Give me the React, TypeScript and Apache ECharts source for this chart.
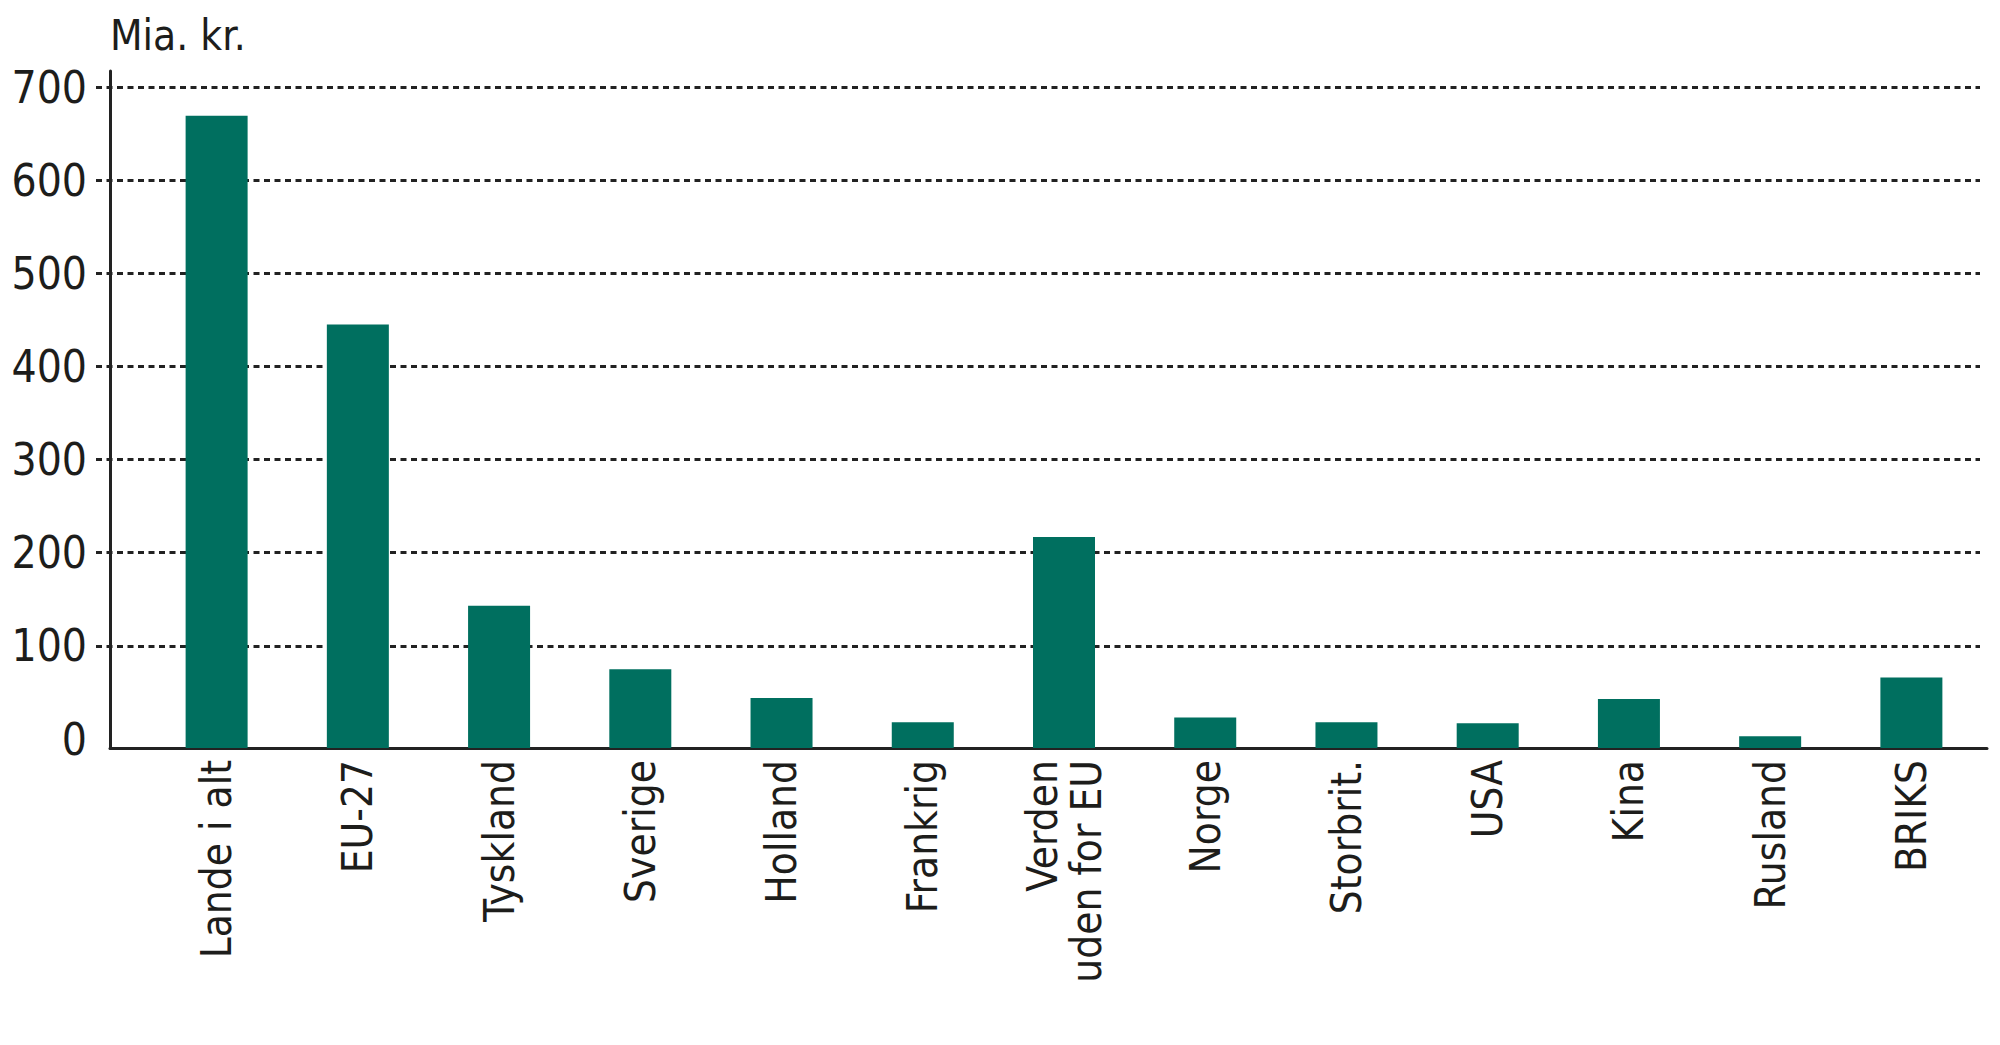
import React, { useEffect, useRef } from 'react';
import * as echarts from 'echarts';

// kategorier og værdier (mia. kr.)
const lande = [
  'Lande i alt',
  'EU-27',
  'Tyskland',
  'Sverige',
  'Holland',
  'Frankrig',
  'Verden\nuden for EU',
  'Norge',
  'Storbrit.',
  'USA',
  'Kina',
  'Rusland',
  'BRIKS',
];
const eksport = [669, 445, 143, 75, 44, 18, 217, 23, 18, 17, 43, 3, 66];

const Y_MIN = 0;
const Y_MAX = 700;
const Y_STEP = 100;
const ENHED = 'Mia. kr.';

const FONT = '"DejaVu Sans Condensed", "Liberation Sans Narrow", "Noto Sans", sans-serif';
const TEKST = '#1d1d1b';
const GROEN = '#006f5f';

// x-aksen ligger lidt under nul-linjen i originalen
const TOP = 87;
const NUL_BUND = 306;
const AKSE_BUND = 297;
const PLOT_H = 1045 - TOP - NUL_BUND;
const sokkel = ((NUL_BUND - AKSE_BUND) * (Y_MAX - Y_MIN)) / PLOT_H;

const App: React.FC = () => {
  const chartRef: any = useRef(null);

  useEffect(() => {
    const chart = echarts.init(chartRef.current, null, { renderer: 'svg' });
    const gridFarver = [];
    for (let v = Y_MIN; v <= Y_MAX; v += Y_STEP) {
      gridFarver.push(v === 0 ? 'rgba(0,0,0,0)' : '#222222');
    }

    const option = {
      animation: false,
      backgroundColor: '#ffffff',
      textStyle: { fontFamily: FONT },
      title: {
        text: ENHED,
        left: 110,
        top: 14,
        padding: 0,
        textStyle: { fontFamily: FONT, fontSize: 42, fontWeight: 'normal', color: TEKST },
      },
      grid: [
        // gitterlinjer og y-tal
        { left: 96, right: 20, top: TOP, bottom: NUL_BUND },
        // søjler og landenavne
        { left: 146, right: 18, top: TOP, bottom: AKSE_BUND },
        // aksestreger
        { left: 110, right: 13, top: 71, bottom: AKSE_BUND },
      ],
      xAxis: [
        { gridIndex: 0, type: 'category', data: lande, show: false },
        {
          gridIndex: 1,
          type: 'category',
          data: lande,
          axisLine: { show: false },
          axisTick: { show: false },
          axisLabel: {
            interval: 0,
            rotate: 90,
            margin: 12,
            fontFamily: FONT,
            fontSize: 42,
            lineHeight: 44,
            color: TEKST,
          },
        },
        {
          gridIndex: 2,
          type: 'value',
          min: 0,
          max: 1,
          axisLine: { show: true, lineStyle: { color: '#222', width: 3 } },
          axisTick: { show: false },
          axisLabel: { show: false },
          splitLine: { show: false },
        },
      ],
      yAxis: [
        {
          gridIndex: 0,
          type: 'value',
          min: Y_MIN,
          max: Y_MAX,
          interval: Y_STEP,
          axisLine: { show: false },
          axisTick: { show: false },
          axisLabel: { margin: 9, fontFamily: FONT, fontSize: 44, color: TEKST },
          splitLine: {
            show: true,
            lineStyle: { color: gridFarver, width: 3, type: [6, 4.5] },
          },
        },
        {
          gridIndex: 1,
          type: 'value',
          min: Y_MIN - sokkel,
          max: Y_MAX,
          startValue: Y_MIN - sokkel,
          show: false,
        },
        {
          gridIndex: 2,
          type: 'value',
          min: 0,
          max: 1,
          axisLine: { show: true, lineStyle: { color: '#222', width: 3 } },
          axisTick: { show: false },
          axisLabel: { show: false },
          splitLine: { show: false },
        },
      ],
      series: [
        {
          type: 'bar',
          xAxisIndex: 1,
          yAxisIndex: 1,
          data: eksport,
          barWidth: 62,
          itemStyle: { color: GROEN },
        },
      ],
    };

    chart.setOption(option as any);
    return () => {
      chart.dispose();
    };
  }, []);

  return (
    <div
      ref={chartRef}
      style={{ position: 'absolute', left: 0, top: 0, width: 2000, height: 1045 }}
    ></div>
  );
};

export default App;
